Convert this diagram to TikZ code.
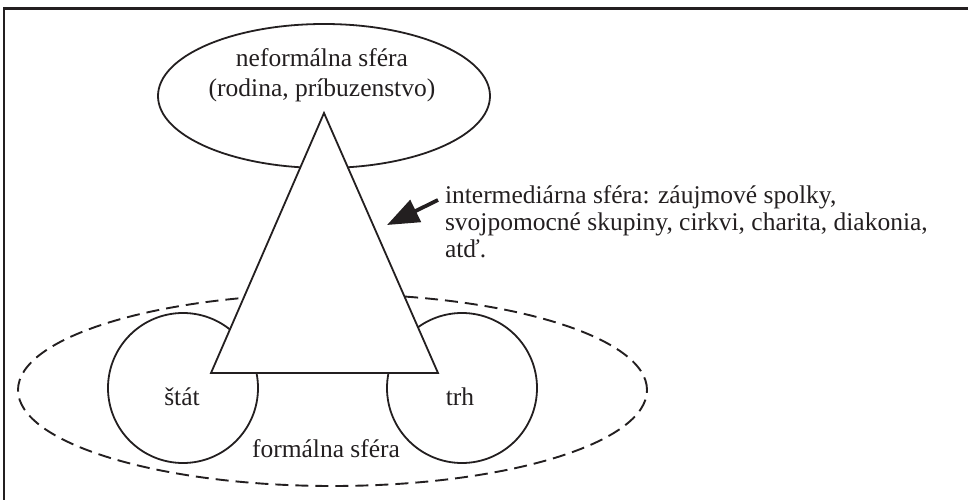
\documentclass[tikz,border=0pt]{standalone}
\usepackage{fontspec}
\setmainfont{Liberation Serif}
\usetikzlibrary{arrows.meta,shapes.geometric}
\definecolor{ink}{HTML}{231F20}
\begin{document}
\begin{tikzpicture}[x=1pt,y=-1pt,
  shp/.style={draw=ink, line width=1.8pt, fill=white, inner sep=0pt, outer sep=0pt},
  dashedshp/.style={draw=ink, line width=1.9pt, dash pattern=on 13pt off 7pt, inner sep=0pt, outer sep=0pt},
  lbl/.style={font=\fontsize{25.5}{27}\selectfont, text=ink, inner sep=0pt, outer sep=0pt},
  frameline/.style={draw=ink, line width=2.5pt},
  pointer/.style={draw=ink, line width=3.8pt, -{Triangle[length=32pt,width=24pt]}}]
\useasboundingbox (0,0) rectangle (968,500);
% frame (top and left edges)
\coordinate (fl) at (4.2,500);
\coordinate (fc) at (4.2,8.3);
\coordinate (fr) at (968,8.3);
\draw[frameline] (fl) -- (fc) -- (fr);
% formal sphere (dashed)
\node[dashedshp, ellipse, minimum width=629pt, minimum height=192pt] (formal) at (332.5,390) {};
% state and market
\node[shp, circle, minimum size=150pt] (stat) at (183,388) {};
\node[shp, circle, minimum size=150pt] (trh) at (462,388) {};
% informal sphere
\node[shp, ellipse, minimum width=332pt, minimum height=144pt] (inf) at (324,96) {};
% intermediary triangle
\coordinate (apex) at (324,113);
\coordinate (bl) at (211,373);
\coordinate (br) at (438,373);
\draw[shp, line join=miter] (apex) -- (br) -- (bl) -- cycle;
% texts
\node[lbl, anchor=base] (t1) at (322,67) {neformálna sféra};
\node[lbl, anchor=base] (t2) at (322,97) {(rodina, príbuzenstvo)};
\node[lbl, anchor=base] (tstat) at (182,405) {štát};
\node[lbl, anchor=base] (ttrh) at (460,405) {trh};
\node[lbl, anchor=base] (tformal) at (326,457) {formálna sféra};
\node[lbl, anchor=base west] (i1) at (445,203) {intermediárna sféra: záujmové spolky,};
\node[lbl, anchor=base west] (i2) at (445,230) {svojpomocné skupiny, cirkvi, charita, diakonia,};
\node[lbl, anchor=base west] (i3) at (445,257) {atď.};
% arrow
\coordinate (tail) at (438,200);
\coordinate (tip) at (387,225);
\draw[pointer] (tail) -- (tip);
\end{tikzpicture}
\end{document}
